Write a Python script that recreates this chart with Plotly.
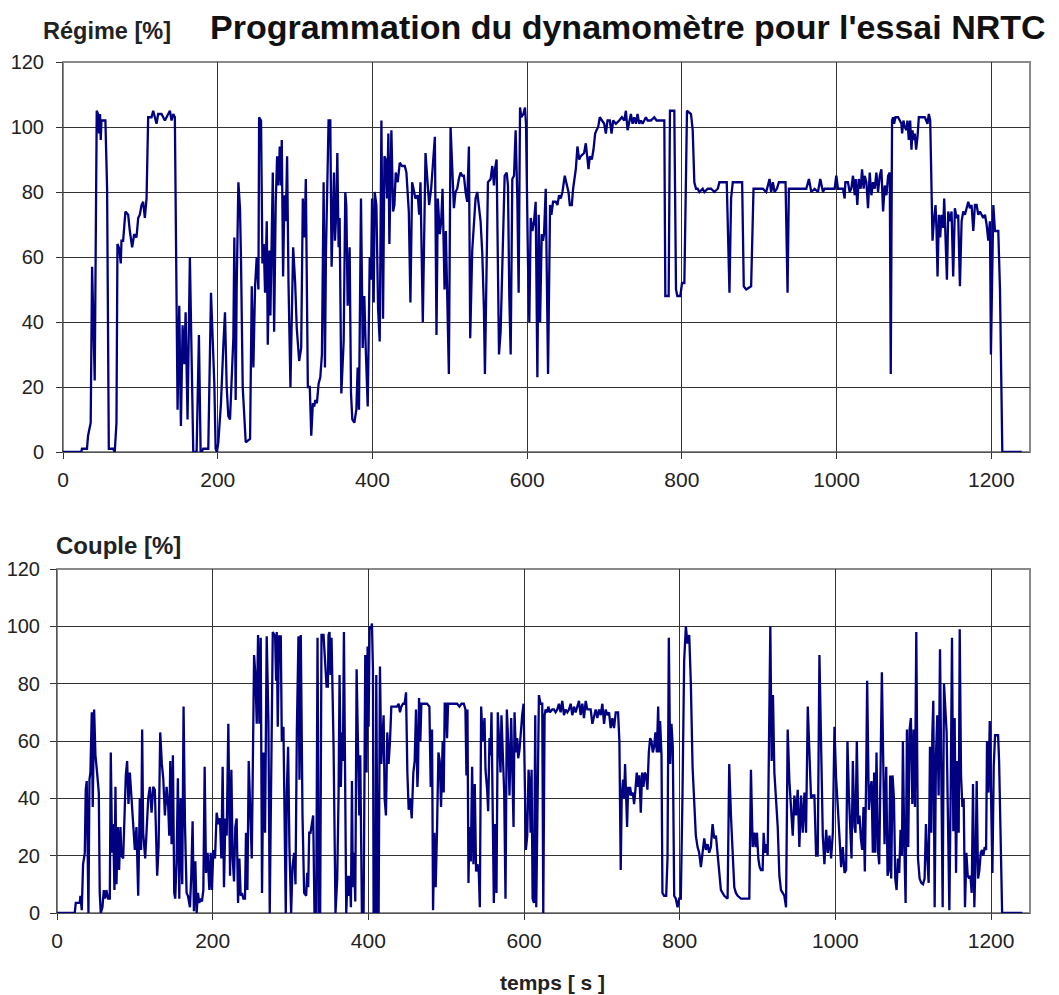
import plotly.graph_objects as go

# ---------------- Régime [%] (top panel) ----------------
t_regime = [0, 23.7, 24.5, 31, 32.4, 35.8, 37.6, 41, 43.6, 45.3, 46.6, 47.9, 48.8, 49.7, 54.8, 57, 59.2, 64.8, 66.9, 69.1,
            70.4, 72.1, 73.4, 74.7, 75.6, 77.7, 80.7, 84.2, 86.4, 89.4, 92, 95, 97.2, 99.3, 101.5, 103.6, 105.8, 108, 110.1, 114.4,
            116.6, 120.9, 123, 127.4, 131.7, 136, 138.2, 140.3, 142.5, 144.6, 148.1, 150.3, 152.4, 154.6, 156.7, 158.5, 161, 164, 166, 168.4,
            172.7, 175.7, 177.9, 179.2, 181.3, 187.8, 191.3, 194.3, 195.6, 197.3, 199, 200.8, 204.2, 207.3, 209.4, 211.6, 213.7, 215.9, 218, 220.2,
            221.5, 223.2, 224.5, 226.7, 228.8, 230.1, 232.3, 234.5, 236.2, 241.8, 244, 246.1, 248.3, 250.4, 252.6, 253.5, 256, 257.8, 259.5, 261.2,
            263.4, 264.7, 266.8, 268.1, 269.9, 271.2, 272.9, 275, 276.8, 278.5, 280.2, 282, 282.8, 284.5, 286.3, 288, 289.7, 291.5, 294, 295.8,
            297.5, 300.1, 302.2, 305.3, 307.9, 310, 312.2, 313.9, 316.5, 319, 320.9, 323, 324.8, 326.1, 328.2, 330.4, 332.6, 334.7, 336.9, 338.6,
            339.9, 343.3, 345.5, 347.2, 349, 350.3, 351.6, 353.3, 354.6, 356.3, 357.6, 359.8, 362.8, 364.9, 366.2, 368, 370.5, 372.3, 374, 376.6,
            379.2, 380.9, 382.6, 385.2, 387.4, 389.5, 391.3, 393.9, 396.5, 398.2, 399.5, 401.6, 402.9, 405.1, 407.3, 409.4, 411.6, 413.7, 415.5, 417.2,
            418.9, 420.6, 421.9, 424.5, 426.7, 428.4, 430.1, 432.7, 435.3, 438.3, 441.8, 443.9, 447, 449.1, 451.3, 453.4, 455.6, 458.6, 460.4, 462.1,
            465.1, 468.6, 471.6, 473.3, 475.9, 478.5, 480.7, 482.8, 484.5, 487.1, 488.9, 490.6, 493.2, 494.9, 496.6, 498.8, 501, 503.1, 505.3, 507.4,
            509.6, 511.7, 513.9, 516.1, 518.2, 520.4, 522.5, 524.7, 526.4, 529, 531.2, 533.3, 535.5, 537.6, 539.8, 542, 544.1, 545.4, 547.6, 549.3,
            552.8, 554.9, 557.1, 558.4, 560.5, 562.3, 563.6, 565.7, 568.7, 570.9, 573.5, 575.2, 576.9, 578.7, 580.8, 583, 585.1, 587.3, 589, 590.8,
            592.5, 595.1, 597.2, 598.5, 601.1, 602.8, 604.6, 606.7, 608.9, 611, 613.2, 614.9, 616.7, 618.8, 620.5, 621.8, 624, 627, 629.6, 631.3,
            633.5, 637, 639.1, 641.3, 643.4, 645.6, 648.6, 653.4, 655.1, 657.7, 659.4, 662.9, 665, 667.2, 669.3, 673.6, 675.8, 678, 679.3, 681,
            683.6, 685.7, 687.9, 689.6, 691.8, 693.9, 696.5, 699.6, 701.7, 703.9, 706.9, 709.1, 711.2, 714.7, 719, 722.4, 725.5, 727.6, 729.8, 731.9,
            734.1, 736.3, 738.4, 740.6, 742.7, 744.9, 747.1, 749.2, 751.4, 753.5, 755.7, 757.8, 760, 764.3, 767.3, 770.8, 775.1, 777.3, 778.6, 782.9,
            784.6, 790.2, 792.4, 794.1, 798, 800.2, 803.2, 805.3, 806.6, 811.8, 814, 816.1, 818.3, 820.4, 822.6, 826.9, 829.1, 833.4, 837.7, 842,
            846.4, 848.5, 858, 861.5, 863.6, 865.8, 877.9, 880, 883.1, 889.5, 892.6, 898.2, 904.6, 909, 913.3, 915.4, 917.6, 919.8, 922.8, 925.4,
            934, 936.6, 938.3, 943.5, 952.1, 960.8, 964.2, 967.3, 971.6, 975.9, 978.9, 982.4, 984.5, 988.8, 997.5, 999.6, 1001.8, 1008.3, 1010.4, 1011.3,
            1014.7, 1016.9, 1019, 1021.2, 1023.4, 1024.7, 1026.8, 1028.6, 1031.1, 1032.9, 1035, 1036.3, 1038.5, 1040.6, 1042.8, 1045, 1047.1, 1049.3, 1051.4, 1053.6,
            1055.8, 1057.9, 1060.1, 1062.2, 1064.4, 1066.6, 1068.7, 1070, 1071.7, 1073, 1074.3, 1076.1, 1079.5, 1081.7, 1083.8, 1084.7, 1086.4, 1088.1, 1090.3, 1091.6,
            1093.3, 1095.1, 1096.8, 1098.1, 1099.4, 1101.1, 1102.8, 1104.6, 1106.3, 1109.7, 1114, 1117.5, 1119.2, 1121, 1122.7, 1124, 1125.7, 1127.9, 1129.2, 1130.5,
            1132.2, 1133.9, 1135.6, 1137.8, 1139.1, 1140.8, 1142.6, 1144.3, 1146.4, 1148.6, 1150.7, 1152.9, 1155.1, 1157.2, 1159.4, 1161.6, 1163.7, 1165.9, 1168, 1170.2,
            1172.3, 1174.5, 1176.7, 1178.8, 1181, 1183.1, 1185.3, 1187.4, 1189.6, 1191.8, 1193.9, 1196.1, 1198.2, 1199.5, 1201.3, 1202.6, 1204.7, 1209, 1211.2, 1214.2,
            1239.3]
v_regime = [0, 0, 1, 1, 5, 9, 57, 22, 105, 104, 98, 104, 96, 102, 102, 81, 1, 1, 0, 9,
            64, 63, 61, 58, 65, 65, 74, 73, 68, 63, 67, 66, 72, 73, 76, 77, 72, 78, 103, 103,
            105, 101, 104, 104, 102, 104, 105, 102, 104, 103, 13, 45, 8, 39, 27, 43, 10, 60, 30, 0,
            0, 36, 0, 0, 1, 1, 49, 31, 21, 1, 0, 3, 15, 33, 43, 20, 11, 10, 25, 35,
            66, 16, 50, 83, 75, 59, 20, 9, 3, 4, 51, 26, 51, 60, 50, 103, 102, 58, 64, 49,
            71, 33, 62, 42, 75, 86, 37, 77, 91, 82, 94, 82, 96, 54, 79, 71, 91, 52, 20, 39,
            63, 52, 38, 28, 32, 78, 66, 84, 20, 20, 5, 15, 14, 16, 15, 21, 23, 30, 83, 26,
            61, 102, 102, 57, 80, 86, 65, 74, 92, 63, 72, 18, 34, 80, 76, 45, 63, 18, 10, 9,
            13, 26, 13, 78, 32, 48, 32, 14, 60, 53, 78, 46, 80, 76, 44, 34, 102, 41, 91, 90,
            78, 98, 64, 99, 74, 76, 86, 83, 89, 88, 88, 86, 74, 46, 83, 80, 78, 79, 73, 83,
            40, 92, 81, 76, 81, 89, 97, 36, 78, 67, 71, 81, 50, 68, 50, 24, 100, 89, 75, 80,
            81, 84, 86, 85, 85, 80, 77, 94, 35, 62, 69, 78, 80, 76, 71, 61, 44, 24, 67, 83,
            84, 88, 82, 87, 90, 57, 30, 37, 64, 85, 86, 82, 48, 30, 84, 85, 99, 78, 49, 106,
            103, 104, 106, 101, 58, 40, 72, 68, 71, 77, 23, 73, 40, 67, 65, 67, 81, 24, 76, 73,
            77, 77, 76, 79, 78, 80, 85, 80, 76, 76, 81, 87, 94, 90, 91, 92, 95, 90, 87, 91,
            90, 93, 98, 99, 100, 103, 102, 101, 98, 102, 102, 98, 102, 101, 102, 103, 102, 105, 99, 102,
            104, 101, 103, 101, 104, 101, 102, 101, 102, 103, 102, 102, 102, 103, 102, 102, 102, 102, 48, 48,
            105, 105, 50, 48, 48, 52, 52, 81, 105, 104, 99, 83, 81, 81, 80, 81, 80, 81, 81, 80,
            81, 83, 83, 49, 78, 83, 83, 51, 50, 51, 81, 81, 81, 80, 84, 80, 83, 80, 81, 83,
            83, 49, 81, 81, 81, 81, 84, 80, 81, 80, 84, 80, 81, 81, 81, 85, 81, 81, 78, 83,
            83, 80, 81, 85, 79, 84, 76, 84, 81, 87, 81, 85, 83, 75, 86, 79, 83, 81, 86, 80,
            85, 87, 74, 82, 79, 85, 86, 24, 102, 103, 101, 103, 103, 102, 101, 98, 102, 100, 99, 102,
            96, 102, 93, 99, 96, 98, 93, 97, 103, 103, 103, 101, 104, 102, 80, 65, 71, 76, 68, 54,
            73, 66, 73, 69, 78, 68, 53, 74, 71, 74, 54, 75, 72, 73, 51, 71, 74, 73, 75, 77,
            75, 76, 68, 76, 76, 73, 74, 73, 72, 73, 70, 65, 71, 30, 69, 76, 68, 68, 50, 0,
            0]

# ---------------- Couple [%] (bottom panel) ----------------
t_couple = [0, 22.8, 24.1, 29.2, 30.1, 31.8, 33.5, 35.7, 36.9, 38.2, 39.5, 40.4, 41.7, 42.9, 44.7, 45.9, 47.7, 49.4, 51.5, 53.7,
            54.9, 56.2, 58.4, 60.1, 61.8, 63.5, 65.7, 67.8, 69.1, 70.8, 72.1, 73.8, 75.1, 76.4, 78.1, 79.8, 81.5, 82.8, 85, 86.7,
            88.4, 90.1, 91.8, 93.6, 95.3, 97.9, 100, 102.1, 104.3, 106.4, 108.1, 109.4, 110.7, 113.3, 115, 117.2, 119.3, 121.5, 123.6, 125.7,
            127, 128.7, 130.5, 132.6, 134.7, 136.5, 138.6, 140.8, 142.9, 144.2, 145.5, 147.2, 148.9, 150.6, 151.9, 153.6, 155.3, 157.1, 158.8, 160.9,
            162.6, 164.4, 166.5, 168.2, 170.8, 172.5, 174.2, 175.9, 177.7, 179.4, 181.1, 182.8, 184.5, 186.2, 188, 189.7, 191.4, 193.5, 195.7, 197.4,
            199.1, 200.8, 203, 205.1, 207.3, 209.4, 211.1, 212.8, 214.5, 216.3, 218, 220.1, 222.3, 224, 225.7, 227.4, 229.1, 230.8, 232.6, 234.3,
            236, 237.7, 239.4, 241.5, 242.8, 244.6, 246.3, 248, 250.2, 251.4, 253.2, 254.9, 256.6, 258.3, 260, 261.7, 263.4, 265.2, 267.3, 269.4,
            271.6, 273.3, 275.9, 277.2, 280.2, 281.5, 282.3, 283.6, 285.3, 287.5, 288.8, 290.9, 293.9, 295.2, 296.9, 298.6, 300.8, 302.5, 304.6, 306.4,
            308.1, 310.2, 311.5, 313.2, 315.4, 317.5, 320.1, 321.4, 322.7, 324, 325.7, 327.4, 329.1, 330.8, 333, 334.7, 336.4, 338.1, 339.8, 342.4,
            344.5, 346.3, 348, 348.8, 350.1, 351.4, 352.7, 355.3, 357.8, 360, 361.7, 363, 364.7, 366, 367.3, 368.6, 370.3, 371.6, 373.3, 375,
            376.3, 377.6, 378.9, 380.1, 381.4, 383.2, 384.9, 386.6, 388.3, 389.6, 391.7, 393.9, 395.2, 396, 397.7, 399, 400.3, 401.6, 403.3, 404.6,
            405.9, 406.7, 408.9, 410.2, 411.9, 413.2, 414.9, 416.6, 417.9, 419.6, 420.9, 422.6, 424.3, 426, 427.8, 429.5, 432.5, 436.8, 438.9, 440.6,
            442.4, 444.5, 446.6, 448.4, 450.1, 451.8, 453.9, 455.7, 457.8, 459.5, 461.2, 463, 463.8, 465.1, 466.8, 468.1, 471.1, 475.4, 478.4, 480.1,
            481.8, 483.1, 484.8, 486.5, 488.3, 490, 491.7, 493.4, 495.5, 496.8, 498.1, 499.8, 501.1, 502.4, 507.6, 514, 517, 519.6, 522.6, 524.7,
            526, 527.3, 528.6, 529.9, 531.6, 533.3, 535, 536.7, 538.4, 540.2, 541.9, 543.2, 544.9, 547, 549.2, 550.5, 552.6, 553.9, 555.6, 556.9,
            558.2, 559.9, 561.2, 562.9, 564.6, 566.3, 568, 569.8, 571, 572.8, 574.5, 576.2, 577.9, 579.6, 581.3, 583.5, 584.8, 586.5, 587.8, 589.5,
            591.2, 592.5, 594.2, 595.9, 597.6, 599.4, 601.1, 602.4, 604.1, 605.8, 607.1, 608.4, 609.7, 611, 612.7, 614.4, 615.7, 617.4, 619.1, 621.2,
            623.4, 624.7, 626.4, 627.7, 629.8, 631.1, 633.3, 636.3, 638.4, 640.5, 642.7, 644.8, 647, 649.1, 651.3, 653.4, 655.6, 657.7, 659.9, 662,
            664.2, 666.3, 668.5, 670.6, 672.7, 674.9, 677, 679.2, 681.3, 685.6, 687.8, 689.9, 692, 694.2, 696.3, 698.5, 700.6, 702.8, 704.9, 707.1,
            709.2, 711.3, 713.5, 715.6, 717.8, 720.8, 722.5, 724.2, 725.5, 727.2, 728.5, 729.8, 731.1, 732.4, 733.7, 734.9, 736.2, 737.9, 739.7, 741.4,
            743.1, 744.8, 746.5, 748.2, 750, 751.7, 753.4, 755.1, 756.8, 758.5, 760.3, 762, 763.7, 765.4, 767.1, 768.8, 770.6, 772.3, 773.6, 774.8,
            776.6, 777.8, 780, 782.6, 784.3, 786, 787.7, 789.4, 791.1, 792.9, 795, 797.2, 799.3, 801.4, 803.6, 805.7, 807.9, 810, 812.2, 814.3,
            816.5, 818.6, 820.7, 822.9, 825, 827.2, 829.3, 831.5, 833.6, 835.8, 837.9, 840, 842.2, 844.3, 846.5, 848.6, 850.8, 852.9, 855.1, 857.2,
            861.5, 863.6, 865.8, 867.9, 870.1, 872.2, 874.4, 878.7, 885.1, 889.4, 891.5, 893.7, 895.8, 897.5, 899.2, 901, 902.7, 904.4, 906.5, 907.8,
            909.5, 911.3, 913, 914.7, 916.4, 918.1, 919.8, 921.6, 923.7, 925.9, 928, 930.1, 932.3, 934.4, 936.6, 938.7, 940.9, 943, 945.2, 947.3,
            949.4, 951.6, 953.7, 955.9, 958, 960.2, 962.3, 964.5, 966.6, 968.7, 970.9, 973, 975.2, 977.3, 979.5, 981.6, 983.8, 985.9, 988.1, 990.2,
            992.4, 994.5, 996.7, 998.8, 1000.9, 1003.1, 1005.2, 1007.4, 1009.5, 1011.7, 1013.8, 1015.5, 1017.2, 1019, 1020.7, 1022.4, 1024.5, 1025.8, 1027.5, 1029.3,
            1031, 1032.7, 1034.4, 1036.1, 1037.8, 1039.6, 1040.8, 1043, 1044.7, 1046.4, 1048.1, 1049.8, 1051.1, 1052.8, 1054.6, 1056.3, 1058, 1059.7, 1061.4, 1063.1,
            1065.3, 1067, 1068.7, 1070.4, 1071.7, 1073.4, 1075.2, 1076.9, 1078.6, 1080.3, 1082, 1083.7, 1085.5, 1086.7, 1088.5, 1090.2, 1091.9, 1093.6, 1095.3, 1097,
            1098.8, 1100.5, 1102.2, 1103.9, 1106.1, 1108.2, 1110.3, 1112.5, 1114.6, 1116.3, 1118.1, 1119.8, 1121.5, 1123.2, 1124.5, 1125.8, 1127.5, 1129.2, 1130.9, 1132.6,
            1134.4, 1136.1, 1137.8, 1139.5, 1141.2, 1142.9, 1144.7, 1146.4, 1148.1, 1149.8, 1151.5, 1153.2, 1155, 1156.7, 1158.4, 1159.7, 1161.4, 1163.1, 1164.8, 1166.5,
            1168.3, 1170, 1171.7, 1173.4, 1175.1, 1176.8, 1178.5, 1180.3, 1181.5, 1183.3, 1185, 1186.7, 1188.4, 1190.1, 1191.8, 1193.6, 1194.8, 1196.6, 1198.3, 1200,
            1201.7, 1203.4, 1205.1, 1209, 1210.3, 1212, 1214.2, 1240.3]
v_couple = [0, 0, 3.5, 3.5, 6, 1, 17, 21, 43, 46, 19, 0, 46.5, 49, 70, 37, 71, 55, 49, 42,
            7, 0, 2, 8, 5, 8, 5, 5, 56, 21, 31, 8, 44, 10, 30, 15, 30, 20, 19, 35,
            48, 53, 38, 49, 42, 28, 22, 30, 6, 40, 22, 64, 28, 19, 31, 40, 44, 35, 44, 43,
            30, 13, 23, 63, 52, 47, 34, 44, 37, 27, 53, 24, 55, 7, 5, 18, 47, 5, 40, 10,
            72, 31, 7, 6, 2, 13, 32, 0.6, 18, 0, 7, 3.5, 5, 4, 8, 51, 14, 21, 8, 21,
            8, 22, 19, 35, 31, 33, 19, 51, 9, 33, 27, 66, 13, 50, 19, 11, 30, 33, 3.5, 19,
            6, 7, 5, 5, 28, 8, 53, 40, 19, 47, 90, 83, 66, 97, 66, 96, 7, 56, 28, 96.5,
            67, 0, 79, 98, 96.5, 81, 98, 65, 96.5, 96.5, 60, 65, 0, 42, 58, 23, 0, 16, 21, 10,
            63, 96.5, 46.5, 97, 34, 7, 6, 14, 9, 28, 28, 31, 34, 0, 0, 96, 0, 0, 97, 97,
            85, 79, 79, 97, 98, 83, 96, 58, 0, 12, 41, 83, 44, 63, 53, 98, 42, 0, 13, 6,
            13, 2, 46, 9, 21, 4, 85, 55, 34, 55, 0, 0, 48, 90, 49, 93, 65, 100, 99, 101,
            85, 0, 0, 83, 0, 0, 86, 52, 60, 69, 40, 34, 63, 52, 60, 72, 72, 72, 73, 70,
            72, 73, 73, 77, 49, 36, 40, 33, 49, 53, 71, 44, 49, 75, 60, 73, 73, 73, 72, 44,
            64, 1, 28, 9, 30, 56, 53, 37, 60, 42, 73, 73, 61, 73, 73, 73, 72, 73, 73, 71,
            48, 71, 10.5, 30, 18, 51, 17, 45, 14.5, 17, 14, 2, 72, 60, 68, 50, 43, 35.5, 61, 55,
            70, 21, 3.5, 31, 7, 70, 58, 49, 69, 55, 42, 5, 71, 60, 41, 68, 48, 30, 70, 56,
            61, 54, 57, 64, 69, 73, 51, 22, 27, 50, 45, 28, 50, 5, 3.5, 69, 2, 52, 76, 73,
            73, 0, 69, 71, 70, 72, 70, 71, 71, 70, 71, 73, 70, 74, 69, 71, 70, 71, 73, 69,
            72, 70, 72, 74, 69, 73, 68, 74, 71, 71, 66, 69, 71, 68, 71, 69, 73, 66, 71, 69,
            70, 64.5, 68, 64.5, 70, 70, 60, 15, 41, 46.5, 40, 52, 35, 30, 44, 41, 44, 41, 42, 38,
            43, 49, 44, 48, 35, 49, 44, 49, 48, 43, 56, 61, 60, 56, 58, 63, 56, 72, 56, 67,
            55, 7, 6, 6, 19, 96, 52, 66, 58, 6, 5, 2, 5, 5, 42, 88, 100, 94, 97, 80,
            51, 40, 27, 23, 21, 16, 22, 26, 22, 24, 21, 23, 31, 26, 27, 21, 12, 8, 7, 6,
            5, 52, 34, 20, 9, 7, 6, 5, 5, 5, 50, 23, 28, 23, 28, 19, 16, 15, 15, 28,
            21, 24, 20, 63, 100, 53, 76, 49, 38, 30, 13, 8, 7, 6, 2, 64, 46, 35, 27, 41,
            34, 43, 23, 41, 28, 42, 28, 72, 55, 40, 41, 41, 20, 20, 90, 58, 27, 17, 29, 21,
            27, 19, 28, 65, 47, 37, 28, 16, 23, 14, 15, 60, 42, 31, 19, 53, 30, 28, 60, 31,
            34, 26, 22, 37, 14.5, 49, 81, 36, 43, 46, 21, 49, 21, 56, 22, 17, 51, 84, 54, 24,
            51, 13, 15, 48, 12, 48, 40, 12, 8, 19, 14, 29, 20, 60, 24, 3.5, 64, 23, 64, 68,
            38, 64, 37, 98, 19, 12, 10.5, 10, 12, 31, 19, 10.5, 58, 28, 62, 74, 2, 55, 69, 41,
            92, 55, 2, 80, 70, 63, 31, 1, 42, 96, 28.5, 68, 14, 53, 28, 99, 48, 37, 40, 2,
            21, 13, 12, 13, 7, 45, 2, 21, 46, 12, 15, 21, 22, 20, 23, 22, 60, 42, 67, 38,
            14, 51, 62, 62, 53, 30, 0, 0]

x_ticks = [0, 200, 400, 600, 800, 1000, 1200]
y_ticks = [0, 20, 40, 60, 80, 100, 120]

title_text = "Programmation du dynamomètre pour l'essai NRTC"
top_label = "Régime [%]"
bottom_label = "Couple [%]"
x_label = "temps [ s ]"

# The page body adds an 8 px margin, so the figure is made 8 px smaller
# and all reference pixel positions are shifted by -8.
OFF = 8
W, H = 1059 - OFF, 995 - OFF
LINE = "#000080"
FONT = "Liberation Sans, Arial, sans-serif"

fig = go.Figure()
fig.add_trace(go.Scatter(x=t_regime, y=v_regime, mode="lines", cliponaxis=False,
                         line=dict(color=LINE, width=2.3), xaxis="x", yaxis="y", showlegend=False))
fig.add_trace(go.Scatter(x=t_couple, y=v_couple, mode="lines", cliponaxis=False,
                         line=dict(color=LINE, width=2.3), xaxis="x2", yaxis="y2", showlegend=False))

def px_x(p):
    return (p - OFF) / W

def px_y(p):
    return 1 - (p - OFF) / H

axis_common = dict(
    showgrid=True, gridcolor="#333333", gridwidth=1,
    showline=True, linecolor="#555555", linewidth=1,
    ticks="outside", ticklen=6, tickcolor="#333333", tickwidth=1,
    tickfont=dict(family=FONT, size=21, color="#222222"),
    zeroline=False, fixedrange=True, automargin=False, layer="below traces",
)
ytick_font = dict(family=FONT, size=20, color="#222222")

fig.update_layout(
    width=W, height=H,
    margin=dict(l=0, r=0, t=0, b=0, pad=0, autoexpand=False),
    paper_bgcolor="white", plot_bgcolor="white",
    font=dict(family=FONT),
    xaxis=dict(axis_common, domain=[px_x(63), px_x(1030)], range=[0, 1250],
               tickvals=x_ticks, anchor="y", ticklabelstandoff=3),
    yaxis=dict(axis_common, domain=[px_y(452), px_y(62)], range=[0, 120],
               tickvals=y_ticks, anchor="x", ticklabelstandoff=8, tickfont=ytick_font),
    xaxis2=dict(axis_common, domain=[px_x(57), px_x(1030)], range=[0, 1250],
                tickvals=x_ticks, anchor="y2", ticklabelstandoff=3),
    yaxis2=dict(axis_common, domain=[px_y(913), px_y(569)], range=[0, 120],
                tickvals=y_ticks, anchor="x2", ticklabelstandoff=6, tickfont=ytick_font),
)

# grey frame around each plot area, drawn below the data line
for xr, yr in (("x", "y"), ("x2", "y2")):
    fig.add_shape(type="rect", xref=f"{xr} domain", yref=f"{yr} domain",
                  x0=0, x1=1, y0=0, y1=1, line=dict(color="#8a8a8a", width=2),
                  fillcolor="rgba(0,0,0,0)", layer="below")

fig.add_annotation(text=f"<b>{title_text}</b>", xref="paper", yref="paper",
                   x=px_x(628), y=px_y(27), xanchor="center", yanchor="middle",
                   showarrow=False, font=dict(family=FONT, size=34, color="#111111"))
fig.add_annotation(text=f"<b>{top_label}</b>", xref="paper", yref="paper",
                   x=px_x(41), y=px_y(31), xanchor="left", yanchor="middle",
                   showarrow=False, font=dict(family=FONT, size=23.5, color="#222222"))
fig.add_annotation(text=f"<b>{bottom_label}</b>", xref="paper", yref="paper",
                   x=px_x(54), y=px_y(545), xanchor="left", yanchor="middle",
                   showarrow=False, font=dict(family=FONT, size=24, color="#222222"))
fig.add_annotation(text=f"<b>{x_label}</b>", xref="paper", yref="paper",
                   x=px_x(552), y=px_y(982), xanchor="center", yanchor="middle",
                   showarrow=False, font=dict(family=FONT, size=21, color="#222222"))

fig.write_html("out.html")
